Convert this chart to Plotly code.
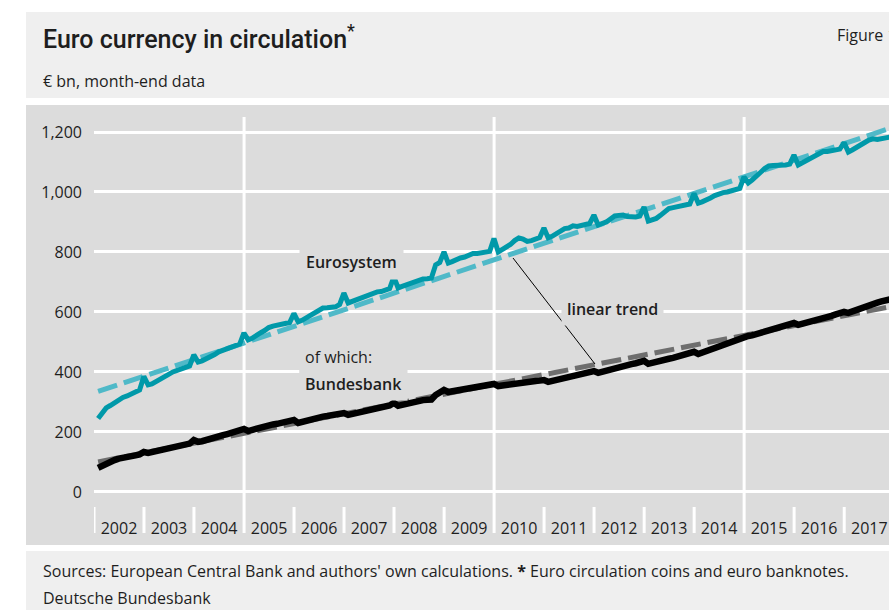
import pandas as pd
import plotly.graph_objects as go

W, H = 889, 610
# plot area in page pixels
PL, PR, PT, PB = 94, 889, 117, 533

years = list(range(2002, 2018))
gridline_years = [2005, 2010, 2015]
y_ticks = [0, 200, 400, 600, 800, 1000, 1200]

# month-end data, Jan 2002 - Nov 2017, € bn
eurosystem = [
    245, 265, 280, 288, 297, 307, 315, 320, 328, 333, 340, 385,
    357, 360, 367, 375, 383, 392, 400, 405, 408, 413, 420, 457,
    433, 437, 443, 450, 458, 467, 472, 478, 482, 487, 493, 530,
    507, 512, 523, 530, 538, 548, 553, 556, 558, 560, 565, 595,
    567, 572, 580, 588, 598, 605, 613, 614, 615, 617, 625, 663,
    630, 635, 640, 648, 655, 660, 665, 667, 668, 672, 678, 717,
    680, 685, 690, 697, 702, 707, 710, 711, 713, 757, 765, 800,
    763, 768, 775, 780, 783, 790, 795, 795, 797, 798, 802, 845,
    800, 808, 815, 825, 838, 847, 843, 835, 838, 845, 848, 880,
    847, 852, 860, 868, 878, 880, 887, 885, 888, 890, 895, 923,
    890, 895, 900, 910, 920, 922, 923, 918, 917, 917, 920, 950,
    903, 908, 912, 922, 935, 945, 948, 950, 952, 955, 960, 995,
    963, 967, 972, 980, 988, 995, 998, 1000, 1003, 1007, 1012, 1050,
    1030, 1040, 1055, 1065, 1078, 1087, 1088, 1088, 1090, 1090, 1093, 1123,
    1090, 1097, 1105, 1112, 1122, 1130, 1135, 1135, 1137, 1140, 1143, 1165,
    1133, 1140, 1150, 1158, 1165, 1173, 1177, 1175, 1178, 1180, 1183,
]
bundesbank = [
    80, 87, 95, 100, 106, 111, 115, 118, 120, 122, 125, 133,
    130, 133, 137, 141, 145, 148, 151, 153, 155, 158, 161, 173,
    167, 169, 172, 176, 181, 185, 189, 193, 196, 200, 203, 210,
    203, 207, 211, 215, 219, 222, 225, 227, 229, 231, 233, 240,
    230, 234, 238, 242, 246, 249, 251, 253, 255, 257, 259, 263,
    257, 260, 264, 268, 272, 276, 279, 281, 283, 285, 288, 297,
    287, 290, 294, 298, 302, 305, 306, 307, 308, 323, 330, 340,
    333, 335, 338, 340, 343, 345, 347, 348, 350, 352, 354, 360,
    353, 355, 358, 361, 364, 366, 367, 368, 369, 370, 371, 373,
    367, 370, 374, 378, 383, 387, 390, 393, 396, 398, 401, 403,
    397, 401, 405, 409, 413, 417, 420, 423, 426, 429, 432, 437,
    427, 431, 435, 438, 441, 444, 447, 450, 453, 456, 460, 467,
    460, 465, 470, 476, 481, 487, 492, 497, 502, 507, 512, 520,
    520, 522, 526, 531, 536, 541, 545, 549, 553, 556, 559, 563,
    557, 560, 563, 566, 570, 574, 578, 583, 587, 592, 596, 600,
    597, 602, 608, 614, 619, 623, 627, 631, 635, 638, 642,
]
trend_dates = ["2002-01-31", "2017-11-30"]
eurosystem_trend = [335, 1212]
bundesbank_trend = [100, 617]

dates = pd.date_range("2002-01-31", periods=len(eurosystem), freq="ME")

FONT = "Open Sans"
TXT = "#1e1e1e"
PANEL = "#dcdcdc"
LIGHT = "#efefef"


def px(x):
    return (x - PL) / (PR - PL)


def py(y):
    return (PB - y) / (PB - PT)


fig = go.Figure()
fig.add_trace(go.Scatter(x=trend_dates, y=eurosystem_trend, mode="lines",
                         line=dict(color="#4fb9c8", width=5, dash="20px,7px")))
fig.add_trace(go.Scatter(x=trend_dates, y=bundesbank_trend, mode="lines",
                         line=dict(color="#6e6e6e", width=5, dash="20px,7px")))
fig.add_trace(go.Scatter(x=dates, y=eurosystem, mode="lines",
                         line=dict(color="#0099a9", width=5)))
fig.add_trace(go.Scatter(x=dates, y=bundesbank, mode="lines",
                         line=dict(color="black", width=6.5)))

shapes = [
    dict(type="rect", xref="paper", yref="paper", x0=px(26), x1=px(900), y0=py(98), y1=py(12),
         fillcolor=LIGHT, line_width=0, layer="below"),
    dict(type="rect", xref="paper", yref="paper", x0=px(26), x1=px(900), y0=py(545), y1=py(105),
         fillcolor=PANEL, line_width=0, layer="below"),
    dict(type="rect", xref="paper", yref="paper", x0=px(26), x1=px(900), y0=py(620), y1=py(551),
         fillcolor=LIGHT, line_width=0, layer="below"),
    # leader line for "linear trend"
    dict(type="line", xref="paper", yref="paper", x0=px(513), y0=py(258), x1=px(595), y1=py(364),
         line=dict(color="black", width=1)),
]
for yr in years:
    long = yr in gridline_years
    shapes.append(dict(type="line", xref="x", yref="paper", x0=f"{yr}-01-01", x1=f"{yr}-01-01",
                       y0=0, y1=1 if long else py(507), line=dict(color="white", width=3),
                       layer="below"))

annotations = [
    dict(text="Euro currency in circulation<sup>*</sup>", x=px(41), y=py(37), xanchor="left",
         yanchor="middle", font=dict(size=25, family="Roboto", color=TXT, weight=500)),
    dict(text="Figure 1", x=px(835), y=py(35), xanchor="left", yanchor="middle",
         font=dict(size=16, family=FONT, color=TXT)),
    dict(text="€ bn, month-end data", x=px(41), y=py(81), xanchor="left", yanchor="middle",
         font=dict(size=16, family=FONT, color=TXT)),
    dict(text="Eurosystem", x=px(299), y=py(262), xanchor="left", yanchor="middle",
         bgcolor=PANEL, borderpad=6, font=dict(size=16, family=FONT, color=TXT, weight=600)),
    dict(text="of which:", x=px(299), y=py(357), xanchor="left", yanchor="middle",
         bgcolor=PANEL, borderpad=5, font=dict(size=16, family=FONT, color=TXT)),
    dict(text="Bundesbank", x=px(299), y=py(384), xanchor="left", yanchor="middle",
         bgcolor=PANEL, borderpad=5, font=dict(size=16, family=FONT, color=TXT, weight=600)),
    dict(text="linear trend", x=px(561), y=py(309), xanchor="left", yanchor="middle",
         bgcolor=PANEL, borderpad=5, font=dict(size=16, family=FONT, color=TXT, weight=600)),
    dict(text="Sources: European Central Bank and authors' own calculations. <b>*</b> Euro circulation coins and euro banknotes.",
         x=px(41), y=py(571), xanchor="left", yanchor="middle",
         font=dict(size=16, family=FONT, color=TXT)),
    dict(text="Deutsche Bundesbank", x=px(41), y=py(598), xanchor="left", yanchor="middle",
         font=dict(size=16, family=FONT, color=TXT)),
]
for a in annotations:
    a.update(xref="paper", yref="paper", showarrow=False)

fig.update_layout(
    width=W, height=H,
    margin=dict(l=PL, r=W - PR, t=PT, b=H - PB),
    paper_bgcolor="white",
    plot_bgcolor=PANEL,
    showlegend=False,
    shapes=shapes,
    annotations=annotations,
    xaxis=dict(type="date", range=["2002-01-01", "2017-11-24"], showgrid=False, zeroline=False,
               showline=False, ticks="", dtick="M12", tick0="2002-01-01", tickformat="%Y",
               ticklabelmode="period", ticklabelposition="inside", ticklabelstandoff=-7,
               tickfont=dict(size=16, family=FONT, color=TXT)),
    yaxis=dict(range=[-137, 1250], tickvals=y_ticks, tickformat=",d", showgrid=True,
               gridcolor="white", gridwidth=3, zeroline=True, zerolinecolor="white",
               zerolinewidth=3, showline=False, ticks="", ticklabelstandoff=11,
               tickfont=dict(size=16, family=FONT, color=TXT)),
)

fig.write_html("out.html", config={"displayModeBar": False},
               post_script="document.body.style.margin='0';document.body.style.overflow='hidden';")
